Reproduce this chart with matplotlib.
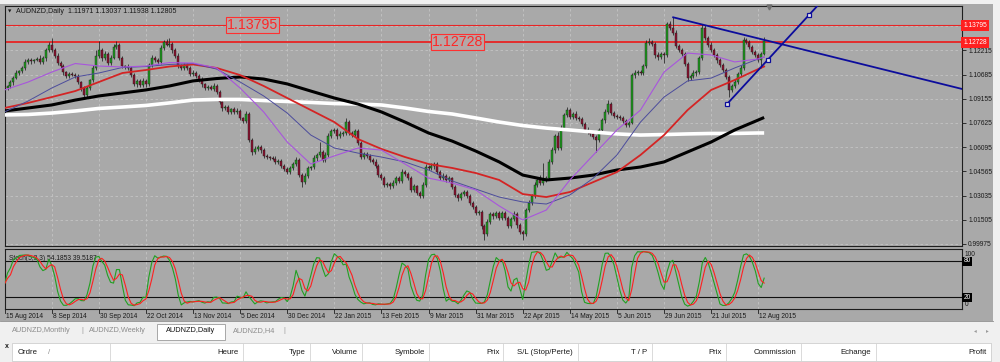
import numpy as np
import pandas as pd
import matplotlib
matplotlib.use("Agg")
import matplotlib.pyplot as plt
from matplotlib.patches import Rectangle
from matplotlib.lines import Line2D
import matplotlib.transforms as mtransforms

plt.rcParams['font.family'] = ['Liberation Sans', 'DejaVu Sans']

# ---------------- data ----------------
symbol_title = "AUDNZD,Daily  1.11971 1.13037 1.11938 1.12805"
stoch_title = "Stoch(5,3,3) 54.1853 39.5187"
date_labels = ["15 Aug 2014", "8 Sep 2014", "30 Sep 2014", "22 Oct 2014", "13 Nov 2014",
               "5 Dec 2014", "30 Dec 2014", "22 Jan 2015", "13 Feb 2015", "9 Mar 2015",
               "31 Mar 2015", "22 Apr 2015", "14 May 2015", "5 Jun 2015", "29 Jun 2015",
               "21 Jul 2015", "12 Aug 2015"]
bars_per_date_label = 16
price_labels = [1.12215, 1.10685, 1.09155, 1.07625, 1.06095, 1.04565, 1.03035, 1.01505, 0.99975]
grid_prices = [1.13745] + price_labels
level_prices = [1.13795, 1.12728]
level_label_bars = [75.4, 145.1]

first_open = 1.0990
closes = [
    1.0983, 1.0996, 1.1021, 1.1046, 1.1078, 1.1091, 1.1110, 1.1148, 1.1160, 1.1154, 1.1160, 1.1167, 1.1148, 1.1173, 1.1223, 1.1255,
    1.1223, 1.1186, 1.1141, 1.1122, 1.1084, 1.1059, 1.1070, 1.1068, 1.1059, 1.1021, 1.0983, 1.0939, 1.0983, 1.1034, 1.1110, 1.1186,
    1.1223, 1.1173, 1.1198, 1.1141, 1.1173, 1.1242, 1.1255, 1.1173, 1.1122, 1.1118, 1.1110, 1.1065, 1.1008, 1.1025, 1.1002, 1.1030,
    1.1008, 1.1129, 1.1173, 1.1160, 1.1148, 1.1236, 1.1274, 1.1255, 1.1261, 1.1223, 1.1186, 1.1122, 1.1110, 1.1129, 1.1110, 1.1072,
    1.1078, 1.1059, 1.1034, 1.1008, 1.0983, 1.0990, 1.0980, 1.0996, 1.0958, 1.0895, 1.0857, 1.0862, 1.0832, 1.0848, 1.0832, 1.0838,
    1.0794, 1.0775, 1.0819, 1.0655, 1.0579, 1.0600, 1.0610, 1.0591, 1.0554, 1.0547, 1.0541, 1.0535, 1.0516, 1.0522, 1.0490, 1.0471,
    1.0452, 1.0478, 1.0503, 1.0528, 1.0433, 1.0389, 1.0427, 1.0478, 1.0484, 1.0541, 1.0560, 1.0579, 1.0528, 1.0560, 1.0680, 1.0712,
    1.0718, 1.0680, 1.0693, 1.0699, 1.0768, 1.0699, 1.0686, 1.0712, 1.0636, 1.0547, 1.0565, 1.0554, 1.0528, 1.0516, 1.0490, 1.0433,
    1.0414, 1.0370, 1.0378, 1.0364, 1.0383, 1.0414, 1.0395, 1.0452, 1.0440, 1.0414, 1.0339, 1.0364, 1.0320, 1.0301, 1.0370, 1.0484,
    1.0478, 1.0490, 1.0503, 1.0452, 1.0414, 1.0427, 1.0402, 1.0414, 1.0358, 1.0307, 1.0288, 1.0313, 1.0326, 1.0301, 1.0257, 1.0231,
    1.0193, 1.0200, 1.0111, 1.0061, 1.0136, 1.0187, 1.0174, 1.0193, 1.0162, 1.0193, 1.0162, 1.0111, 1.0155, 1.0187, 1.0117, 1.0073,
    1.0061, 1.0212, 1.0257, 1.0301, 1.0370, 1.0402, 1.0383, 1.0402, 1.0414, 1.0516, 1.0591, 1.0680, 1.0604, 1.0730, 1.0813, 1.0844,
    1.0800, 1.0819, 1.0794, 1.0788, 1.0756, 1.0718, 1.0705, 1.0693, 1.0674, 1.0655, 1.0718, 1.0781, 1.0832, 1.0882, 1.0825, 1.0807,
    1.0800, 1.0794, 1.0775, 1.0749, 1.0765, 1.1065, 1.1078, 1.1084, 1.1078, 1.1122, 1.1267, 1.1274, 1.1261, 1.1192, 1.1179, 1.1198,
    1.1192, 1.1388, 1.1363, 1.1331, 1.1249, 1.1223, 1.1198, 1.1135, 1.1046, 1.1059, 1.1078, 1.1084, 1.1173, 1.1365, 1.1299, 1.1255,
    1.1223, 1.1192, 1.1160, 1.1129, 1.1097, 1.1053, 1.0971, 1.0996, 1.1021, 1.1072, 1.1110, 1.1287, 1.1274, 1.1242, 1.1211, 1.1192,
    1.1160, 1.11971, 1.12805]
upper_wick_pips = [
    12, 8, 15, 10, 18, 9, 14, 20, 11, 16, 9, 13, 22, 10, 15, 20,
    44, 12, 18, 10, 14, 9, 16, 12, 10, 15, 8, 13, 11, 9, 17, 35,
    57, 14, 20, 12, 16, 18, 25, 11, 14, 9, 17, 12, 10, 15, 13, 16,
    9, 14, 18, 12, 10, 16, 15, 22, 36, 14, 11, 17, 10, 13, 15, 12,
    16, 10, 13, 18, 9, 14, 12, 20, 11, 15, 8, 16, 12, 10, 14, 18,
    13, 9, 22, 15, 10, 18, 14, 11, 16, 12, 9, 13, 17, 10, 12, 14,
    11, 15, 13, 20, 10, 12, 18, 14, 9, 16, 13, 65, 12, 17, 20, 15,
    14, 10, 18, 12, 24, 16, 11, 13, 9, 15, 12, 14, 10, 13, 16, 11,
    15, 12, 10, 14, 18, 11, 13, 22, 16, 10, 12, 15, 9, 14, 17, 20,
    13, 18, 15, 11, 10, 16, 12, 14, 9, 13, 11, 16, 12, 10, 14, 12,
    15, 11, 13, 10, 18, 12, 14, 16, 11, 13, 10, 15, 12, 17, 11, 13,
    10, 14, 16, 12, 18, 15, 30, 110, 14, 16, 20, 13, 25, 18, 14, 22,
    15, 12, 18, 10, 14, 11, 16, 12, 13, 10, 15, 14, 17, 25, 12, 16,
    13, 10, 14, 12, 11, 16, 20, 12, 15, 13, 18, 23, 14, 12, 16, 15,
    14, 10, 18, 67, 16, 12, 15, 13, 10, 14, 16, 12, 15, 20, 18, 14,
    16, 12, 15, 11, 13, 10, 14, 12, 16, 15, 18, 20, 14, 12, 16, 11,
    13, 15, 23]
lower_wick_pips = [
    14, 10, 12, 16, 9, 13, 11, 15, 10, 18, 12, 9, 14, 11, 16, 10,
    12, 15, 10, 13, 17, 11, 14, 9, 15, 12, 16, 25, 13, 10, 14, 11,
    13, 16, 10, 14, 12, 9, 15, 11, 13, 17, 10, 14, 12, 16, 11, 13,
    18, 12, 10, 15, 13, 11, 14, 9, 12, 16, 10, 13, 15, 11, 14, 12,
    10, 14, 12, 16, 11, 13, 9, 15, 12, 10, 18, 13, 11, 14, 12, 16,
    12, 15, 10, 14, 18, 11, 13, 16, 10, 12, 14, 9, 15, 11, 13, 10,
    14, 12, 16, 10, 15, 29, 12, 14, 11, 13, 16, 10, 14, 12, 15, 11,
    13, 16, 10, 14, 12, 11, 15, 13, 10, 14, 12, 16, 11, 13, 10, 15,
    12, 14, 11, 16, 10, 13, 15, 12, 14, 10, 16, 12, 13, 11, 15, 14,
    11, 13, 16, 12, 10, 14, 12, 15, 11, 13, 16, 10, 14, 12, 15, 11,
    13, 12, 20, 38, 14, 11, 16, 12, 13, 10, 15, 12, 14, 11, 16, 13,
    38, 12, 14, 11, 16, 13, 15, 12, 14, 10, 13, 16, 12, 14, 11, 15,
    12, 14, 10, 16, 13, 11, 15, 12, 14, 76, 13, 10, 16, 12, 14, 11,
    13, 12, 15, 11, 14, 10, 16, 12, 13, 15, 11, 14, 12, 20, 16, 13,
    51, 12, 14, 11, 16, 13, 15, 12, 20, 14, 11, 16, 12, 13, 15, 11,
    14, 12, 16, 11, 13, 15, 44, 12, 14, 10, 16, 13, 11, 15, 12, 14,
    13, 50, 3]

# moving averages sampled along the chart (bar index -> price)
ma_bars = [0, 8, 16, 24, 32, 40, 48, 56, 64, 72, 80, 88, 96, 104, 112, 120, 128,
           136, 144, 152, 160, 168, 176, 184, 192, 200, 208, 216, 224, 232, 240, 248, 256, 258]
ma_white = [1.0813, 1.0816, 1.0825, 1.0838, 1.0854, 1.0863, 1.0873, 1.0889, 1.0907, 1.0911,
            1.0911, 1.0904, 1.0898, 1.0892, 1.0885, 1.0882, 1.0876, 1.0857, 1.0835, 1.0819,
            1.0794, 1.0768, 1.0746, 1.0730, 1.0718, 1.0705, 1.0693, 1.0686, 1.0689, 1.0693,
            1.0696, 1.0696, 1.0699, 1.0699]
ma_black = [1.0838, 1.0857, 1.0876, 1.0907, 1.0933, 1.0952, 1.0971, 1.0996, 1.1028, 1.1043,
            1.1053, 1.1040, 1.1009, 1.0964, 1.0920, 1.0882, 1.0832, 1.0768, 1.0699, 1.0648,
            1.0585, 1.0516, 1.0433, 1.0402, 1.0414, 1.0433, 1.0465, 1.0484, 1.0516, 1.0579,
            1.0642, 1.0718, 1.0781, 1.0797]
ma_red = [1.0857, 1.0889, 1.0926, 1.0964, 1.1021, 1.1078, 1.1097, 1.1119, 1.1132, 1.1110,
          1.1065, 1.0996, 1.0920, 1.0844, 1.0768, 1.0661, 1.0598, 1.0547, 1.0503, 1.0478,
          1.0446, 1.0402, 1.0313, 1.0294, 1.0326, 1.0389, 1.0452, 1.0560, 1.0686, 1.0844,
          1.0971, 1.1034, 1.1103, 1.1119]
ma_slate = [1.0832, 1.0901, 1.0983, 1.1053, 1.1078, 1.1113, 1.1119, 1.1132, 1.1138, 1.1103,
            1.1021, 1.0933, 1.0825, 1.0686, 1.0604, 1.0572, 1.0547, 1.0516, 1.0465, 1.0396,
            1.0345, 1.0294, 1.0263, 1.0250, 1.0307, 1.0414, 1.0560, 1.0768, 1.0926, 1.1028,
            1.1046, 1.1110, 1.1167, 1.1179]
ma_violet = [1.0971, 1.1021, 1.1084, 1.1138, 1.1122, 1.1116, 1.1122, 1.1144, 1.1141, 1.1110,
             1.0983, 1.0832, 1.0642, 1.0503, 1.0554, 1.0604, 1.0591, 1.0503, 1.0414, 1.0383,
             1.0339, 1.0238, 1.0149, 1.0212, 1.0402, 1.0560, 1.0718, 1.0844, 1.1084, 1.1204,
             1.1192, 1.1148, 1.1167, 1.1179]

trend_down_bars = [227.1, 237.5]
trend_down_prices = [1.1430, 1.1382]
trend_up_bars = [245.3, 273.3]
trend_up_prices = [1.0880, 1.1446]

# ---------------- layout helpers ----------------
W, H = 1000, 362
BG = '#a9a9a9'
GRID = '#c4c4c4'
GREEN = '#1f9c1f'
RED = '#8e1230'
NAVY = '#0c0c9c'
TXT = '#1a1a1a'
PX0, PXB = 4.6, 2.944          # pixel x of bar 0, pixels per bar
FS = 4.8

fig = plt.figure(figsize=(W / 100, H / 100), dpi=100)
fig.patch.set_facecolor('#f0f0f0')


def box(x0, y0, x1, y1):
    return [x0 / W, 1 - y1 / H, (x1 - x0) / W, (y1 - y0) / H]


def ftext(px, py, s, **kw):
    return fig.text(px / W, 1 - py / H, s, **kw)


# chart window background
fig.add_artist(Rectangle((0, 1 - 321 / H), 993 / W, 317 / H, transform=fig.transFigure,
                         fc=BG, ec='none', zorder=0))

xlim = ((5 - PX0) / PXB, (962 - PX0) / PXB)

# ---------------- main price panel ----------------
ax = fig.add_axes(box(5, 6, 962, 246))
ax.set_facecolor(BG)
ax.set_xlim(*xlim)
ax.set_ylim(0.99847, 1.15015)
for s in ax.spines.values():
    s.set_color('#1e1e1e')
    s.set_linewidth(0.8)
ax.set_xticks([])
ax.yaxis.tick_right()
ax.set_yticks(price_labels)
ax.set_yticklabels([f"{p:.5f}" for p in price_labels])
ax.tick_params(axis='y', length=3, width=0.6, color=TXT, labelsize=FS, labelcolor=TXT, pad=1.5)

dash = (0, (3, 3))
for p in grid_prices:
    ax.axhline(p, color=GRID, lw=0.6, ls=dash, zorder=1)
vpos = [j * bars_per_date_label for j in range(len(date_labels))]
for xv in vpos[1:]:
    ax.axvline(xv, color=GRID, lw=0.6, ls=dash, zorder=1)

# horizontal levels
ax.axhline(level_prices[0], color='#e82424', lw=0.8, zorder=2)
ax.axhline(level_prices[1], color='#e82424', lw=1.3, zorder=2)

# candles
n = min(len(closes), len(upper_wick_pips), len(lower_wick_pips))
c = np.array(closes[:n])
o = np.concatenate([[first_open], c[:-1]])
hi = np.maximum(o, c) + np.array(upper_wick_pips[:n]) / 1e4
lo = np.minimum(o, c) - np.array(lower_wick_pips[:n]) / 1e4
idx = np.arange(n)
up = c >= o
ax.vlines(idx, lo, hi, color='#202020', lw=0.55, zorder=3)
ax.bar(idx[up], (c - o)[up], bottom=o[up], width=0.68, color=GREEN,
       edgecolor='#1a1a1a', lw=0.3, zorder=4)
ax.bar(idx[~up], (o - c)[~up], bottom=c[~up], width=0.68, color=RED,
       edgecolor='#1a1a1a', lw=0.3, zorder=4)

# moving averages
ax.plot(ma_bars, ma_white, color='white', lw=2.6, zorder=5, solid_capstyle='butt')
ax.plot(ma_bars, ma_black, color='black', lw=2.2, zorder=5, solid_capstyle='butt')
ax.plot(ma_bars, ma_red, color='#d42424', lw=1.3, zorder=6)
ax.plot(ma_bars, ma_slate, color='#4c4c9c', lw=0.7, zorder=6)
ax.plot(ma_bars, ma_violet, color='#a855dd', lw=0.8, zorder=6)

# trend lines (rays)
x_right = xlim[1]
s_down = (trend_down_prices[1] - trend_down_prices[0]) / (trend_down_bars[1] - trend_down_bars[0])
ax.plot([trend_down_bars[0], x_right],
        [trend_down_prices[0], trend_down_prices[0] + s_down * (x_right - trend_down_bars[0])],
        color=NAVY, lw=1.3, zorder=7)
s_up = (trend_up_prices[1] - trend_up_prices[0]) / (trend_up_bars[1] - trend_up_bars[0])
ax.plot([trend_up_bars[0], x_right],
        [trend_up_prices[0], trend_up_prices[0] + s_up * (x_right - trend_up_bars[0])],
        color=NAVY, lw=1.3, zorder=7)
mid_b = (trend_up_bars[0] + trend_up_bars[1]) / 2
mid_p = (trend_up_prices[0] + trend_up_prices[1]) / 2
ax.plot([trend_up_bars[0], mid_b, trend_up_bars[1]],
        [trend_up_prices[0], mid_p, trend_up_prices[1]],
        ls='none', marker='s', ms=3.2, mfc='#e6e6e6', mec=NAVY, mew=0.9, zorder=8)

# level labels inside chart
for b, p in zip(level_label_bars, level_prices):
    ax.text(b, p, f"{p:.5f}", color='#ff2626', fontsize=10.2, ha='left', va='center', zorder=9,
            bbox=dict(boxstyle='square,pad=0.06', fc='#b4a7a7', ec='#ff3030', lw=0.8))
# level labels on price axis
ytr = ax.get_yaxis_transform()
for p in level_prices:
    ax.text(1.0012, p, f"{p:.5f}", transform=ytr, color='white', fontsize=FS, ha='left',
            va='center', clip_on=False, zorder=10,
            bbox=dict(boxstyle='square,pad=0.3', fc='#ff2020', ec='none'))

# title
ftext(8, 11.5, '\u25bc', fontsize=3.2, color=TXT, va='center', family=['DejaVu Sans'])
ftext(16.5, 11.5, symbol_title, fontsize=5.1, color=TXT, va='center')
# chart shift marker
fig.add_artist(Line2D([769 / W], [1 - 7 / H], marker='v', ms=3.5, color='#6e6e6e',
                      transform=fig.transFigure, ls='none'))

# ---------------- stochastic panel ----------------
ax2 = fig.add_axes(box(5, 248.9, 962, 309.4))
ax2.set_facecolor(BG)
ax2.set_xlim(*xlim)
ax2.set_ylim(0, 100)
for s in ax2.spines.values():
    s.set_color('#1e1e1e')
    s.set_linewidth(0.8)
ax2.set_xticks([])
ax2.set_yticks([])
for xv in vpos[1:]:
    ax2.axvline(xv, color=GRID, lw=0.6, ls=dash, zorder=1)
ax2.axhline(80, color='#111111', lw=0.8, zorder=2)
ax2.axhline(20, color='#111111', lw=0.8, zorder=2)

# Stochastic(5,3,3) computed from the candles, as the terminal does
hs = pd.Series(hi)
ls_ = pd.Series(lo)
cs = pd.Series(c)
hh = hs.rolling(5, min_periods=1).max()
ll = ls_.rolling(5, min_periods=1).min()
num = (cs - ll).rolling(3, min_periods=1).sum()
den = (hh - ll).rolling(3, min_periods=1).sum()
k_line = 100 * num / den
d_line = k_line.rolling(3, min_periods=1).mean()
ax2.plot(idx, k_line, color='#22a022', lw=0.8, zorder=4)
ax2.plot(idx, d_line, color='#ff2020', lw=0.8, zorder=5)

ax2.text(0.0045, 0.9, stoch_title, transform=ax2.transAxes, fontsize=FS, color=TXT,
         ha='left', va='top')
ytr2 = ax2.get_yaxis_transform()
ax2.text(1.003, 97, '100', transform=ytr2, fontsize=FS, color=TXT, ha='left', va='top', clip_on=False)
ax2.text(1.003, 3, '0', transform=ytr2, fontsize=FS, color=TXT, ha='left', va='bottom', clip_on=False)
for lv in (80, 20):
    ax2.text(1.0015, lv, str(lv), transform=ytr2, fontsize=FS, color='white', ha='left',
             va='center', clip_on=False, bbox=dict(boxstyle='square,pad=0.15', fc='black', ec='none'))

# date labels and ticks
dtr = mtransforms.blended_transform_factory(ax2.transData, fig.transFigure)
for xv, lab in zip(vpos, date_labels):
    ax2.text(xv + 0.35, 1 - 316.6 / H, lab, transform=dtr, fontsize=FS, color=TXT,
             ha='left', va='center', clip_on=False)
    fig.add_artist(Line2D([xv, xv], [1 - 309.4 / H, 1 - 312.5 / H], transform=dtr,
                          color='#1e1e1e', lw=0.6))

# ---------------- tabs ----------------
fig.add_artist(Line2D([0, 993 / W], [1 - 321 / H, 1 - 321 / H], transform=fig.transFigure,
                      color='#8c8c8c', lw=0.6))
fig.add_artist(Rectangle((157 / W, 1 - 340 / H), 68 / W, 16 / H, transform=fig.transFigure,
                         fc='white', ec='#9a9a9a', lw=0.6))
TABFS = 5.3
ftext(12, 331, 'AUDNZD,Monthly', fontsize=TABFS, color='#8c8c8c', va='center')
ftext(81, 331, '|', fontsize=TABFS, color='#9a9a9a', va='center')
ftext(89, 331, 'AUDNZD,Weekly', fontsize=TABFS, color='#8c8c8c', va='center')
ftext(166, 331, 'AUDNZD,Daily', fontsize=TABFS, color='#111111', va='center')
ftext(233, 331, 'AUDNZD,H4', fontsize=TABFS, color='#8c8c8c', va='center')
ftext(283, 331, '|', fontsize=TABFS, color='#9a9a9a', va='center')
ftext(974, 331, '\u25c2', fontsize=4, color='#9a9a9a', va='center', family=['DejaVu Sans'])
ftext(986, 331, '\u25b8', fontsize=4, color='#9a9a9a', va='center', family=['DejaVu Sans'])

# ---------------- terminal table header ----------------
fig.add_artist(Rectangle((12 / W, 1 - 361 / H), 979 / W, 18 / H, transform=fig.transFigure,
                         fc='white', ec='#cfcfcf', lw=0.6))
for xd in [110, 243, 310, 362, 429, 503, 578, 652, 726, 801, 876, 991]:
    fig.add_artist(Line2D([xd / W, xd / W], [1 - 343 / H, 1 - 361 / H], transform=fig.transFigure,
                          color='#d4d4d4', lw=0.6))
HFS = 5.6
ftext(5, 346.5, 'x', fontsize=5, color=TXT, va='center', weight='bold')
ftext(18, 352, 'Ordre', fontsize=HFS, color=TXT, va='center')
ftext(48, 352, '/', fontsize=HFS, color='#8c8c8c', va='center')
for lab, xr in [('Heure', 239), ('Type', 306), ('Volume', 358), ('Symbole', 425), ('Prix', 500),
                ('S/L (Stop/Perte)', 573), ('T / P', 647), ('Prix', 722), ('Commission', 796),
                ('Echange', 871), ('Profit', 987)]:
    ftext(xr, 352, lab, fontsize=HFS, color=TXT, va='center', ha='right')

fig.savefig('out.png', dpi=100, facecolor=fig.get_facecolor())
